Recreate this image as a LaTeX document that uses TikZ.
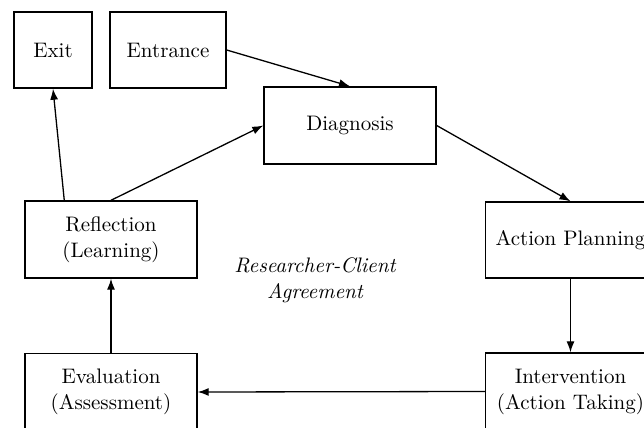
\documentclass[tikz,border=0pt]{standalone}
\usetikzlibrary{arrows.meta}

\tikzset{
  stage/.style={draw, line width=0.7pt, align=center, inner sep=2pt,
    font=\fontsize{10.5}{13}\selectfont},
  flow/.style={-{Latex[length=5.5pt,width=4pt]}, line width=0.65pt},
}

\begin{document}
\begin{tikzpicture}[x=0.5pt, y=-0.5pt]
  % Frame (the original is cut at the right and bottom)
  \useasboundingbox (0,0) rectangle (644,428);
  \clip (0,0) rectangle (644,428);

  % Stages (sizes in pt = half the pixel size)
  \node[stage, minimum width=39pt, minimum height=38pt] (exit) at (53,50) {Exit};
  \node[stage, minimum width=58pt, minimum height=38pt] (entrance) at (168,50) {Entrance};
  \node[stage, minimum width=86pt, minimum height=38.5pt] (diagnosis) at (350,125.5) {Diagnosis};
  \node[stage, minimum width=85pt, minimum height=38pt] (planning) at (570.5,240) {Action Planning};
  \node[stage, minimum width=85pt, minimum height=38.5pt] (intervention) at (570.5,391.5) {Intervention\\(Action Taking)};
  \node[stage, minimum width=86pt, minimum height=38.5pt] (evaluation) at (111,392) {Evaluation\\(Assessment)};
  \node[stage, minimum width=86pt, minimum height=38.5pt] (reflection) at (111,239.5) {Reflection\\(Learning)};

  % Centre label
  \node[align=center, font=\fontsize{10.5}{13}\selectfont\itshape] (agreement) at (315,280) {Researcher-Client\\Agreement};

  % Cycle
  \draw[flow] (entrance.east) -- (diagnosis.north);
  \draw[flow] (diagnosis.east) -- (planning.north);
  \draw[flow] (planning.south) -- (intervention.north);
  \draw[flow] (intervention.west) -- (evaluation.east);
  \draw[flow] (evaluation.north) -- (reflection.south);
  \draw[flow] (reflection.north) -- (diagnosis.west);
  \draw[flow] (reflection.140) -- (exit.south);
\end{tikzpicture}
\end{document}
